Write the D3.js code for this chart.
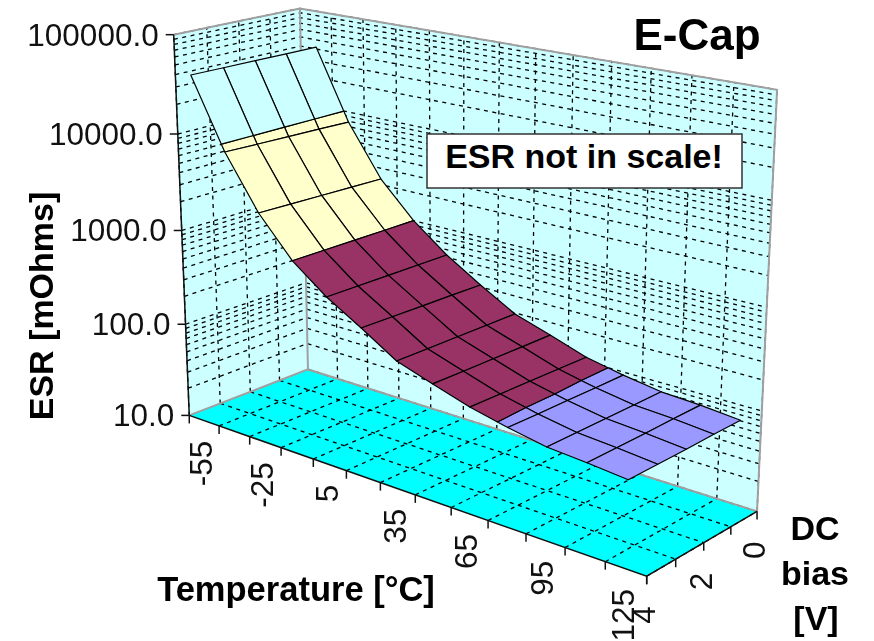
<!DOCTYPE html>
<html>
	<head>
		<script src="https://d3js.org/d3.v7.min.js"></script>
		<style>
			body {
				margin: 0;
				background: #fff;
			}
			svg {
				display: block;
				font-family: 'Liberation Sans', Arial, sans-serif;
				filter: blur(0.4px);
			}
			.wall {
				fill: #ccffff;
			}
			.floor {
				fill: #00ffff;
			}
			.grid {
				fill: none;
				stroke: #000;
				stroke-width: 1.3px;
				stroke-dasharray: 4 4.5;
			}
			.edge {
				fill: none;
				stroke: #a0a0a0;
				stroke-width: 2px;
			}
			.axis {
				fill: none;
				stroke: #111;
				stroke-width: 1.5px;
			}
			.cell {
				stroke: #000;
				stroke-width: 1.2px;
				stroke-linejoin: round;
			}
			.tick {
				font-size: 31.5px;
				fill: #111;
			}
			.title {
				font-weight: bold;
				font-size: 34px;
				fill: #000;
			}
		</style>
	</head>

	<body>
		<svg id="chart" width="874" height="641"></svg>
		<script>
			// data, ESR in mOhms
			const temps = [-55, -40, -25, -10, 5, 20, 35, 50, 65, 80, 95, 110, 125];
			const biases = [0, 1, 2, 3, 4];
			const esrAt0V = [41900, 7800, 2300, 1000, 528, 315, 195, 148, 111, 93, 81, 77, 71];
			const esrAt1V = [42000, 8000, 2340, 1000, 530, 319, 195, 148, 112, 93, 81, 77, 71];
			const esrAt2V = [42200, 8150, 2390, 1000, 532, 322, 196, 149, 113, 94, 81, 76, 70];
			const esrAt3V = [42400, 8300, 2430, 1000, 535, 326, 196, 149, 114, 94, 81, 76, 70];
			const esrAt4V = [42600, 8490, 2480, 1000, 537, 330, 197, 150, 115, 95, 81, 76, 70];
			const esrSeries = [esrAt0V, esrAt1V, esrAt2V, esrAt3V, esrAt4V];

			const tempLabels = [-55, -25, 5, 35, 65, 95, 125];
			const biasLabels = [0, 2, 4];
			const esrTicks = [10, 100, 1000, 10000, 100000];
			const bandColors = ['#9999ff', '#993366', '#ffffcc', '#ccffff'];

			// box corners on screen, used to work out the perspective
			// [temperature 0..1, bias 0..1, esr 0..1, screen x, screen y]
			const anchors = [
				[0, 1, 0, 189, 415],
				[0, 0, 0, 308, 370],
				[1, 0, 0, 757, 511],
				[1, 1, 0, 647, 577],
				[0, 1, 1, 174, 35],
				[0, 0, 1, 300, 8],
				[1, 0, 1, 777, 90],
				[0, 1, 0.25, 186, 325],
				[0, 1, 0.5, 182, 230],
				[0, 1, 0.75, 177, 134],
				[7 / 13, 1, 0, 415, 494]
			];

			function solve(A, b) {
				const n = b.length;
				const m = A.map((row, i) => row.concat(b[i]));
				for (let i = 0; i < n; i++) {
					let best = i;
					for (let r = i + 1; r < n; r++) {
						if (Math.abs(m[r][i]) > Math.abs(m[best][i])) best = r;
					}
					[m[i], m[best]] = [m[best], m[i]];
					for (let r = 0; r < n; r++) {
						if (r === i) continue;
						const f = m[r][i] / m[i][i];
						for (let c = i; c <= n; c++) m[r][c] -= f * m[i][c];
					}
				}
				return m.map((row, i) => row[n] / row[i]);
			}

			// least squares fit of a projective camera
			function fitCamera(points) {
				const rows = [];
				const rhs = [];
				for (const [x, y, z, u, v] of points) {
					rows.push([x, y, z, 1, 0, 0, 0, 0, -u * x, -u * y, -u * z]);
					rhs.push(u);
					rows.push([0, 0, 0, 0, x, y, z, 1, -v * x, -v * y, -v * z]);
					rhs.push(v);
				}
				const A = d3.range(11).map((i) => d3.range(11).map((j) => d3.sum(rows, (r) => r[i] * r[j])));
				const b = d3.range(11).map((i) => d3.sum(rows, (r, k) => r[i] * rhs[k]));
				return solve(A, b);
			}

			const cam = fitCamera(anchors);
			function project(x, y, z) {
				const w = cam[8] * x + cam[9] * y + cam[10] * z + 1;
				return [(cam[0] * x + cam[1] * y + cam[2] * z + cam[3]) / w, (cam[4] * x + cam[5] * y + cam[6] * z + cam[7]) / w];
			}

			const xBand = d3.scaleBand().domain(temps).range([0, 1]);
			const yScale = d3.scalePoint().domain(biases).range([0, 1]);
			const zScale = d3.scaleLog().domain([10, 100000]).range([0, 1]);
			const xCenter = (t) => xBand(t) + xBand.bandwidth() / 2;

			const svg = d3.select('#chart');
			const line = d3.line();

			function drawPath(pts, cls) {
				return svg.append('path').attr('class', cls).attr('d', line(pts.map((p) => project(p[0], p[1], p[2]))));
			}
			function drawPoly(pts, cls) {
				return svg.append('path').attr('class', cls).attr('d', line(pts.map((p) => project(p[0], p[1], p[2]))) + 'Z');
			}

			// walls and floor
			drawPoly([[0, 1, 0], [0, 0, 0], [0, 0, 1], [0, 1, 1]], 'wall');
			drawPoly([[0, 0, 0], [1, 0, 0], [1, 0, 1], [0, 0, 1]], 'wall');
			drawPoly([[0, 1, 0], [0, 0, 0], [1, 0, 0], [1, 1, 0]], 'floor');

			// gridlines, every tick of each axis, log minors on the esr axis
			const xEdges = d3.range(temps.length + 1).map((i) => i / temps.length);
			const minors = [];
			for (const d of esrTicks.slice(0, -1)) {
				for (let k = 1; k < 10; k++) minors.push(d * k);
			}
			minors.push(100000);

			xEdges.slice(1).forEach((x) => {
				drawPath([[x, 0, 0], [x, 0, 1]], 'grid');
				drawPath([[x, 1, 0], [x, 0, 0]], 'grid');
			});
			biases.forEach((b) => {
				const y = yScale(b);
				if (y < 1) drawPath([[0, y, 0], [1, y, 0]], 'grid');
				if (y > 0) drawPath([[0, y, 0], [0, y, 1]], 'grid');
			});
			minors.forEach((v) => {
				const z = zScale(v);
				if (z === 0) return;
				drawPath([[0, 1, z], [0, 0, z], [1, 0, z]], 'grid');
			});

			// box edges
			drawPath([[0, 0, 0], [0, 0, 1]], 'edge');
			drawPath([[0, 1, 1], [0, 0, 1], [1, 0, 1], [1, 0, 0]], 'edge');
			drawPath([[0, 1, 0], [0, 0, 0], [1, 0, 0]], 'edge');

			// cut a polygon to the part between two heights
			function clipZ(poly, lo, hi) {
				const cut = (pts, keep, level) => {
					const out = [];
					pts.forEach((p, i) => {
						const q = pts[(i + 1) % pts.length];
						if (keep(p)) out.push(p);
						if (keep(p) !== keep(q)) {
							const t = (level - p[2]) / (q[2] - p[2]);
							out.push([p[0] + t * (q[0] - p[0]), p[1] + t * (q[1] - p[1]), level]);
						}
					});
					return out;
				};
				return cut(cut(poly, (p) => p[2] >= lo, lo), (p) => p[2] <= hi, hi);
			}

			// surface cells split into one colour per decade
			esrSeries.slice(0, -1).forEach((row, b) => {
				const y0 = yScale(biases[b]);
				const y1 = yScale(biases[b + 1]);
				const next = esrSeries[b + 1];
				temps.slice(0, -1).forEach((t, i) => {
					const x0 = xCenter(t);
					const x1 = xCenter(temps[i + 1]);
					const cell = [
						[x0, y0, zScale(row[i])],
						[x1, y0, zScale(row[i + 1])],
						[x1, y1, zScale(next[i + 1])],
						[x0, y1, zScale(next[i])]
					];
					bandColors.forEach((c, k) => {
						const part = clipZ(cell, zScale(esrTicks[k]), zScale(esrTicks[k + 1]));
						if (part.length < 3) return;
						if (d3.polygonArea(part.map((p) => project(p[0], p[1], p[2]))) === 0) return;
						drawPoly(part, 'cell').attr('fill', c);
					});
				});
			});

			// axis lines and ticks
			drawPath([[0, 1, 0], [0, 1, 1]], 'axis');
			drawPath([[0, 1, 0], [1, 1, 0], [1, 0, 0]], 'axis');

			function tickMark(p, dx, dy) {
				svg.append('line').attr('class', 'axis').attr('x1', p[0]).attr('y1', p[1]).attr('x2', p[0] + dx).attr('y2', p[1] + dy);
			}
			xEdges.forEach((x) => tickMark(project(x, 1, 0), 0, 8));
			biases.forEach((b) => tickMark(project(1, yScale(b), 0), 0, 8));
			esrTicks.forEach((v) => tickMark(project(0, 1, zScale(v)), -8, 0));

			esrTicks.forEach((v) => {
				const p = project(0, 1, zScale(v));
				svg.append('text').attr('class', 'tick').attr('x', p[0] - 15).attr('y', p[1] + 11).attr('text-anchor', 'end').text(d3.format('.1f')(v));
			});

			function rotatedTick(p, dx, dy, txt) {
				svg
					.append('text')
					.attr('class', 'tick')
					.attr('text-anchor', 'end')
					.attr('transform', `translate(${p[0] + dx},${p[1] + dy}) rotate(-90)`)
					.text(txt);
			}
			tempLabels.forEach((t) => rotatedTick(project(xCenter(t), 1, 0), 8, 20, t));
			biasLabels.forEach((b) => rotatedTick(project(1, yScale(b), 0), 8, 30, b));

			// titles
			const title = (x, y, txt, size) =>
				svg.append('text').attr('class', 'title').attr('x', x).attr('y', y).attr('text-anchor', 'middle').style('font-size', size + 'px').text(txt);
			title(697, 50, 'E-Cap', 44);
			title(296, 601, 'Temperature [°C]', 34.5);
			title(815, 540, 'DC', 34);
			title(815, 585, 'bias', 34);
			title(816, 630, '[V]', 34);
			svg
				.append('text')
				.attr('class', 'title')
				.attr('text-anchor', 'middle')
				.attr('transform', 'translate(53,306) rotate(-90)')
				.text('ESR [mOhms]');

			// note box
			svg.append('rect').attr('x', 427).attr('y', 134).attr('width', 315).attr('height', 54).attr('fill', '#fff').attr('stroke', '#333').attr('stroke-width', 1.5);
			title(584, 168, 'ESR not in scale!', 34);
		</script>
	</body>
</html>
